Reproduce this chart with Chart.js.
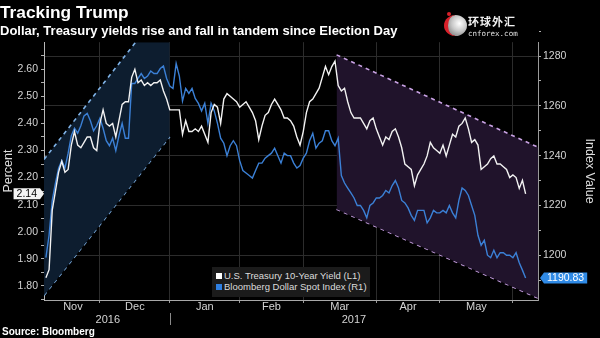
<!DOCTYPE html>
<html>
<head>
<meta charset="utf-8">
<script src="https://cdn.jsdelivr.net/npm/chart.js@4.4.1/dist/chart.umd.min.js"></script>
<style>
  html, body { margin: 0; padding: 0; background: #000; }
  #wrap { position: relative; width: 600px; height: 338px; overflow: hidden; font-family: "Liberation Sans", Arial, sans-serif; }
  #chart { position: absolute; left: 0; top: 0; }
  #legend { position: absolute; left: 212px; top: 267px; width: 158px; height: 30px; background: #1b1b1b; color: #dcdcdc; font-size: 9.5px; line-height: 10.5px; padding-top: 4px; box-sizing: border-box; }
  #legend div { white-space: nowrap; padding-left: 4px; }
  #legend span { display: inline-block; width: 6px; height: 6px; margin-right: 2px; }
  #source { position: absolute; left: 2px; top: 326px; color: #fff; font-weight: bold; font-size: 10px; }
  #logo { position: absolute; left: 443px; top: 12px; width: 80px; height: 28px; }
  #logo .icon { position: absolute; left: 1px; top: 3px; width: 19px; height: 21px; border-radius: 50%; border-left: 4px solid #d8202a; background: radial-gradient(circle at 60% 40%, #ffffff 0%, #c8c8c8 45%, #6a6a6a 100%); }
  #logo .dot { position: absolute; left: 4px; top: 0px; width: 4px; height: 4px; border-radius: 50%; background: #d8202a; }
  #logo .cn { position: absolute; left: 25px; top: 3px; color: #f2f2f2; font-family: "Noto Sans CJK SC", sans-serif; font-size: 11px; font-weight: bold; letter-spacing: 1px; line-height: 12px; }
  #logo .en { position: absolute; left: 25px; top: 17px; color: #e0e0e0; font-family: "DejaVu Sans Mono", monospace; font-size: 7.5px; line-height: 9px; }
</style>
</head>
<body>
<div id="wrap">
  <canvas id="chart" width="600" height="338"></canvas>
  <div id="legend"></div>
  <div id="source">Source: Bloomberg</div>
  <div id="logo"><div class="icon"></div><div class="dot"></div><div class="cn">环球外汇</div><div class="en">cnforex.com</div></div>
</div>
<script>
(function(){
    // x = trading-day index, 0 = Nov 8 2016 (Election Day)
    const monthLabels = ['Nov', 'Dec', 'Jan', 'Feb', 'Mar', 'Apr', 'May'];
    const monthStarts = [0, 17, 39, 61, 81, 104, 124, 147];
    const yearLabels = ['2016', '2017'];
    const yearStarts = [0, 39];
    const xMin = -0.6, xMax = 154.9;

    const yieldTicks = [1.80, 1.90, 2.00, 2.10, 2.20, 2.30, 2.40, 2.50, 2.60];
    const dollarTicks = [1200, 1220, 1240, 1260, 1280];

    // U.S. Treasury 10-Year Yield (L1), percent
    const yields = [
        1.83, 1.86, 2.08, 2.15, 2.22, 2.26, 2.22, 2.23, 2.32, 2.37,
        2.32, 2.31, 2.33, 2.35, 2.35, 2.31, 2.30, 2.40, 2.45, 2.40,
        2.39, 2.40, 2.35, 2.41, 2.47, 2.48, 2.48, 2.57, 2.60, 2.55,
        2.56, 2.54, 2.55, 2.54, 2.55, 2.55, 2.56, 2.52, 2.49, 2.45,
        2.45, 2.45, 2.45, 2.36, 2.41, 2.37, 2.37, 2.38, 2.37, 2.39,
        2.36, 2.33, 2.44, 2.47, 2.46, 2.40, 2.49, 2.51, 2.50, 2.49,
        2.48, 2.46, 2.47, 2.48, 2.46, 2.44, 2.41, 2.34, 2.39, 2.43,
        2.44, 2.47, 2.49, 2.47, 2.45, 2.42, 2.42, 2.41, 2.39, 2.35,
        2.32, 2.37, 2.44, 2.48, 2.49, 2.51, 2.53, 2.57, 2.61, 2.58,
        2.61, 2.63, 2.54, 2.52, 2.53, 2.48, 2.44, 2.42, 2.42, 2.42,
        2.40, 2.38, 2.41, 2.42, 2.38, 2.35, 2.32, 2.35, 2.34, 2.37,
        2.38, 2.35, 2.31, 2.25, 2.24, 2.23, 2.17, 2.21, 2.23, 2.25,
        2.28, 2.33, 2.31, 2.30, 2.29, 2.32, 2.28, 2.32, 2.36, 2.35,
        2.39, 2.40, 2.42, 2.38, 2.33, 2.34, 2.32, 2.23, 2.24, 2.25,
        2.27, 2.28, 2.25, 2.25, 2.24, 2.23, 2.20, 2.21, 2.20, 2.16,
        2.19, 2.14
    ];

    // Bloomberg Dollar Spot Index (R1)
    const dollarIndex = [
        1199, 1208, 1222, 1229, 1235, 1238, 1235, 1241, 1248, 1251,
        1249, 1252, 1256, 1257, 1254, 1250, 1252, 1255, 1251, 1246,
        1244, 1247, 1242, 1248, 1253, 1247, 1247, 1269, 1269, 1271,
        1273, 1271, 1272, 1274, 1273, 1273, 1275, 1276, 1271, 1268,
        1267, 1277, 1272, 1262, 1267, 1265, 1267, 1263, 1261, 1258,
        1261, 1253, 1261, 1258, 1253, 1247, 1245, 1240, 1244, 1246,
        1244, 1238, 1234, 1233, 1232, 1231, 1234, 1237, 1237, 1239,
        1240, 1241, 1243, 1240, 1237, 1241, 1240, 1240, 1237, 1235,
        1236, 1239, 1241, 1246, 1249, 1243, 1245, 1246, 1250, 1250,
        1246, 1244, 1247, 1232, 1229, 1227, 1225, 1223, 1220, 1220,
        1218, 1215, 1220, 1221, 1223, 1223, 1224, 1226, 1225, 1228,
        1230, 1227, 1222, 1221, 1219, 1216, 1214, 1218, 1218, 1218,
        1213, 1215, 1218, 1217, 1217, 1218, 1217, 1220, 1217, 1215,
        1222, 1227, 1226, 1224, 1220, 1216, 1208, 1204, 1206, 1200,
        1199, 1202, 1199, 1201, 1201, 1200, 1200, 1199, 1201, 1197,
        1194, 1190.83
    ];

    // trend channels (x = trading day, y = percent axis)
    const leftChannelX = [-0.6, 39];
    const leftChannelTop = [2.267, 2.861];
    const leftChannelBottom = [1.765, 2.351];
    const rightChannelX = [91.5, 154.9];
    const rightChannelTop = [2.653, 2.312];
    const rightChannelBottom = [2.083, 1.755];

    const FONT = '"Liberation Sans", Arial, sans-serif';
    const LABEL = '#d4d4d4';

    const pts = (xs, ys) => ys.map((v, i) => ({ x: xs ? xs[i] : i, y: v }));

    // x ticks: month boundaries (grid), month centres (labels), year centres (2nd line)
    const xTicks = [];
    monthStarts.slice(1).forEach(v => xTicks.push({ value: v, label: '', grid: true }));
    monthLabels.forEach((m, i) => xTicks.push({ value: (monthStarts[i] + monthStarts[i + 1]) / 2, label: m, grid: false }));
    yearLabels.forEach((y, i) => {
        const end = i + 1 < yearStarts.length ? yearStarts[i + 1] : xMax;
        xTicks.push({ value: (yearStarts[i] + end) / 2, label: ['', y], grid: false });
    });
    xTicks.sort((a, b) => a.value - b.value);

    const withMinors = (majors, half) => {
        const all = [];
        majors.forEach(v => { all.push({ v: v - half, major: false }); all.push({ v: v, major: true }); });
        all.push({ v: majors[majors.length - 1] + half, major: false });
        return all;
    };
    const yieldAll = withMinors(yieldTicks, 0.05);
    const dollarAll = withMinors(dollarTicks, 10);

    const channel = (xs, ys, color, fillTarget, fillColor) => ({
        data: pts(xs, ys), yAxisID: 'y', order: 5,
        borderColor: color, borderWidth: 1.6, borderDash: [4, 4],
        pointRadius: 0, tension: 0,
        fill: fillTarget === null ? false : fillTarget,
        backgroundColor: fillColor
    });

    const datasets = [
        { label: 'U.S. Treasury 10-Year Yield (L1)', data: pts(null, yields), yAxisID: 'y', order: 0,
          borderColor: '#f2f2f2', backgroundColor: '#ffffff', borderWidth: 1.4, pointRadius: 0, tension: 0, fill: false },
        { label: 'Bloomberg Dollar Spot Index (R1)', data: pts(null, dollarIndex), yAxisID: 'y1', order: 1,
          borderColor: '#3b80d6', backgroundColor: '#2f7fe0', borderWidth: 1.4, pointRadius: 0, tension: 0, fill: false },
        channel(leftChannelX, leftChannelTop, '#7fb2e6', 3, '#0d1d2f'),
        channel(leftChannelX, leftChannelBottom, '#7fb2e6', null, 'transparent'),
        channel(rightChannelX, rightChannelTop, '#c9a2e4', 5, '#20132b'),
        channel(rightChannelX, rightChannelBottom, '#c9a2e4', null, 'transparent')
    ];

    function drawTag(ctx, side, tipX, yPix, text, bg, fg) {
        ctx.save();
        ctx.font = '10.5px ' + FONT;
        const w = ctx.measureText(text).width + 6;
        const h = 11;
        const dir = side === 'left' ? -1 : 1;
        const bx = tipX + dir * 4;
        ctx.fillStyle = bg;
        ctx.beginPath();
        ctx.moveTo(tipX, yPix);
        ctx.lineTo(bx, yPix - h / 2);
        ctx.lineTo(bx + dir * w, yPix - h / 2);
        ctx.lineTo(bx + dir * w, yPix + h / 2);
        ctx.lineTo(bx, yPix + h / 2);
        ctx.closePath();
        ctx.fill();
        ctx.fillStyle = fg;
        ctx.textAlign = 'center';
        ctx.textBaseline = 'middle';
        ctx.fillText(text, bx + dir * w / 2, yPix + 0.5);
        ctx.restore();
    }

    const extras = {
        id: 'extras',
        afterDraw(chart) {
            const { ctx, scales } = chart;
            const x = scales.x, y = scales.y, y1 = scales.y1;
            // year separator under the axis
            const sx = Math.round(x.getPixelForValue(yearStarts[1])) + 0.5;
            ctx.save();
            ctx.strokeStyle = '#8a8a8a';
            ctx.lineWidth = 1;
            ctx.beginPath();
            ctx.moveTo(sx, x.top + 13);
            ctx.lineTo(sx, x.top + 25);
            ctx.stroke();
            ctx.restore();
            // last value tags
            const ly = yields[yields.length - 1];
            const ry = dollarIndex[dollarIndex.length - 1];
            drawTag(ctx, 'left', y.right, y.getPixelForValue(ly), ly.toFixed(2), '#f4f4f4', '#000');
            drawTag(ctx, 'right', y1.left + 2, y1.getPixelForValue(ry), ry.toFixed(2), '#2f8ae6', '#fff');
        }
    };

    const chart = new Chart(document.getElementById('chart').getContext('2d'), {
        type: 'line',
        data: { datasets: datasets },
        options: {
            responsive: false,
            animation: false,
            devicePixelRatio: 1,
            layout: { padding: 0 },
            font: { family: FONT },
            plugins: {
                legend: { display: false },
                tooltip: { enabled: false },
                title: { display: true, text: 'Tracking Trump', align: 'start', color: '#fff',
                         font: { family: FONT, size: 17.3, weight: 'bold' }, padding: { top: 2.5, bottom: 0 } },
                subtitle: { display: true, text: 'Dollar, Treasury yields rise and fall in tandem since Election Day',
                            align: 'start', color: '#fff', font: { family: FONT, size: 13, weight: 'bold' },
                            padding: { top: 0, bottom: 3.3 } }
            },
            scales: {
                x: {
                    type: 'linear', min: xMin, max: xMax,
                    afterBuildTicks: s => { s.ticks = xTicks.map(t => ({ value: t.value })); },
                    afterFit: s => { s.height = 38; },
                    ticks: { autoSkip: false, maxRotation: 0, color: LABEL, padding: -2,
                             font: { family: FONT, size: 11, lineHeight: 1.12 },
                             callback: (v, i) => xTicks[i] ? xTicks[i].label : '' },
                    grid: { tickLength: 3,
                            color: c => (xTicks[c.index] && xTicks[c.index].grid) ? '#2c2c2c' : 'transparent',
                            tickColor: c => (xTicks[c.index] && xTicks[c.index].grid) ? '#9a9a9a' : 'transparent' },
                    border: { color: '#a8a8a8', width: 1 }
                },
                y: {
                    position: 'left', min: 1.748, max: 2.70,
                    afterBuildTicks: s => { s.ticks = yieldAll.map(t => ({ value: t.v })); },
                    afterFit: s => { s.width = 44; },
                    ticks: { autoSkip: false, color: LABEL, padding: 3, font: { family: FONT, size: 10.5 },
                             callback: (v, i) => yieldAll[i] && yieldAll[i].major ? v.toFixed(2) : '' },
                    grid: { drawOnChartArea: false, tickLength: 3, tickColor: '#b0b0b0' },
                    border: { color: '#b8b8b8', width: 1 },
                    title: { display: true, text: 'Percent', color: '#dedede', font: { family: FONT, size: 12.5 },
                             padding: { top: 1, bottom: 0 } }
                },
                y1: {
                    position: 'right', min: 1182, max: 1285.6,
                    afterBuildTicks: s => { s.ticks = dollarAll.map(t => ({ value: t.v })); },
                    afterFit: s => { s.width = 62; },
                    ticks: { autoSkip: false, color: LABEL, padding: 2, font: { family: FONT, size: 10.5 },
                             callback: (v, i) => dollarAll[i] && dollarAll[i].major ? String(v) : '' },
                    grid: { tickLength: 3, tickColor: '#b0b0b0',
                            color: c => (dollarAll[c.index] && dollarAll[c.index].major) ? '#2c2c2c' : 'transparent' },
                    border: { color: '#9a9a9a', width: 1 },
                    title: { display: true, text: 'Index Value', color: '#dedede', font: { family: FONT, size: 12.5 },
                             padding: { top: 3, bottom: 0 } }
                }
            }
        },
        plugins: [extras]
    });

    // Legend box inside plot
    const legendEl = document.getElementById('legend');
    chart.data.datasets.slice(0, 2).forEach(ds => {
        const row = document.createElement('div');
        const sw = document.createElement('span');
        sw.style.background = ds.backgroundColor;
        row.appendChild(sw);
        row.appendChild(document.createTextNode(ds.label));
        legendEl.appendChild(row);
    });
})();
</script>
</body>
</html>
